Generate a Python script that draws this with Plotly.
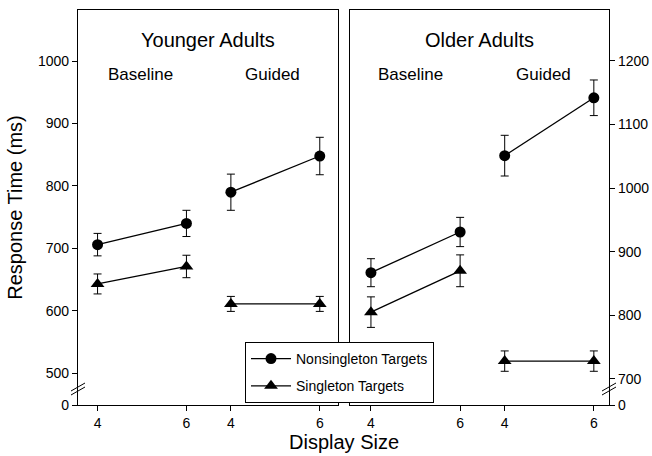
import plotly.graph_objects as go

# ---- data ----
conditions = ["Baseline", "Guided"]
display_sizes = [4, 6]
cond_offset = {"Baseline": 0, "Guided": 3}
tick_labels = ["4", "6", "4", "6"]

# Younger adults (left axis)
young_nonsingleton = {"Baseline": [706, 740], "Guided": [790, 848]}
young_nonsingleton_err = {"Baseline": [18, 21], "Guided": [29, 30]}
young_singleton = {"Baseline": [643, 671], "Guided": [611, 611]}
young_singleton_err = {"Baseline": [16, 18], "Guided": [12, 12]}

# Older adults (right axis)
old_nonsingleton = {"Baseline": [867, 931], "Guided": [1051, 1142]}
old_nonsingleton_err = {"Baseline": [22, 23], "Guided": [32, 28]}
old_singleton = {"Baseline": [805, 870], "Guided": [728, 728]}
old_singleton_err = {"Baseline": [24, 25], "Guided": [16, 16]}

left_ticks = [500, 600, 700, 800, 900, 1000]
right_ticks = [700, 800, 900, 1000, 1100, 1200]

FONT = "Liberation Sans, Arial, Helvetica, sans-serif"

fig = go.Figure()

series = [
    ("Nonsingleton Targets", "circle", 11,
     young_nonsingleton, young_nonsingleton_err, old_nonsingleton, old_nonsingleton_err),
    ("Singleton Targets", "triangle-up", 12,
     young_singleton, young_singleton_err, old_singleton, old_singleton_err),
]

for name, sym, msize, yv, ye, ov, oe in series:
    first = True
    for panel, vals, errs, xa, ya in [("young", yv, ye, "x", "y"), ("old", ov, oe, "x2", "y2")]:
        for c in conditions:
            xs = [cond_offset[c] + (s - 4) for s in display_sizes]
            fig.add_trace(go.Scatter(
                x=xs, y=vals[c], xaxis=xa, yaxis=ya,
                mode="lines+markers", name=name, legendgroup=name,
                showlegend=first,
                line=dict(color="black", width=1.3),
                marker=dict(symbol=sym, size=msize, color="black"),
                error_y=dict(type="data", array=errs[c], visible=True,
                             color="black", thickness=1, width=4),
            ))
            first = False

W, H = 652, 456
L, R, T, B = 78, 609, 10, 405
PW, PH = R - L, B - T


def px(xp):
    return (xp - L) / PW


def py(yp):
    return (B - yp) / PH


axis_common = dict(showline=True, linecolor="black", linewidth=1.2, mirror=True,
                   showgrid=False, zeroline=False, ticks="outside", tickcolor="black",
                   automargin=False,
                   tickfont=dict(family=FONT, size=14, color="black"))

left_lo, left_hi = 449, 1082
right_lo, right_hi = 659, 1280

fig.update_layout(
    width=W, height=H,
    margin=dict(l=L, r=W - R, t=T, b=H - B, pad=0),
    paper_bgcolor="white", plot_bgcolor="white",
    font=dict(family=FONT, color="black"),
    xaxis=dict(domain=[0, 260 / PW], range=[-0.44, 5.41],
               tickvals=[0, 2, 3, 5], ticktext=tick_labels, ticklen=5, **axis_common),
    xaxis2=dict(domain=[272 / PW, 1], range=[-0.47, 5.34], anchor="y2",
                tickvals=[0, 2, 3, 5], ticktext=tick_labels, ticklen=5, **axis_common),
    yaxis=dict(range=[left_lo, left_hi], anchor="x",
               tickvals=[left_lo] + left_ticks, ticktext=["0"] + [str(t) for t in left_ticks],
               ticklen=5,
               title=dict(text="Response Time (ms)", font=dict(family=FONT, size=20), standoff=9),
               **axis_common),
    yaxis2=dict(range=[right_lo, right_hi], anchor="x2", side="right",
                tickvals=[right_lo] + right_ticks, ticktext=["0"] + [str(t) for t in right_ticks],
                ticklen=5, **axis_common),
    showlegend=True,
    legend=dict(x=px(245), y=py(342), xanchor="left", yanchor="top",
                bordercolor="black", borderwidth=1, bgcolor="white",
                font=dict(family=FONT, size=14, color="black"),
                itemwidth=40, tracegroupgap=6),
)

ann = [
    dict(text="Younger Adults", xref="x domain", yref="paper", x=0.5, y=py(40), size=20),
    dict(text="Older Adults", xref="x2 domain", yref="paper", x=0.5, y=py(40), size=20),
    dict(text="Baseline", xref="x", yref="paper", x=0.97, y=py(74), size=17),
    dict(text="Guided", xref="x", yref="paper", x=3.94, y=py(74), size=17),
    dict(text="Baseline", xref="x2", yref="paper", x=0.88, y=py(74), size=17),
    dict(text="Guided", xref="x2", yref="paper", x=3.86, y=py(74), size=17),
    dict(text="Display Size", xref="paper", yref="paper", x=0.5, y=py(442), size=20),
]
for a in ann:
    fig.add_annotation(text=a["text"], xref=a["xref"], yref=a["yref"], x=a["x"], y=a["y"],
                       xanchor="center", yanchor="middle", showarrow=False,
                       font=dict(family=FONT, size=a["size"], color="black"))

# axis break marks
for cx, cy in [(78, 389), (609, 389)]:
    for dy in (-2, 2):
        fig.add_shape(type="line", xref="paper", yref="paper",
                      x0=px(cx - 7), y0=py(cy + dy + 4), x1=px(cx + 7), y1=py(cy + dy - 4),
                      line=dict(color="black", width=1))

fig.write_html("out.html", config={"displayModeBar": False},
               post_script="document.body.style.margin='0';document.body.style.overflow='hidden';")
